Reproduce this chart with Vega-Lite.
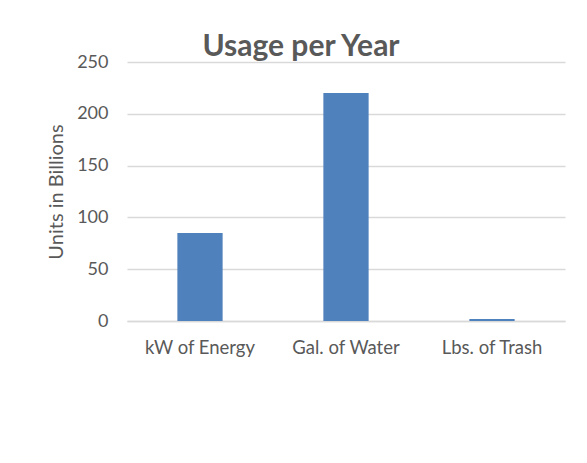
{
  "$schema": "https://vega.github.io/schema/vega-lite/v6.json",
  "autosize": {"type": "none"},
  "width": 438,
  "height": 259,
  "padding": {"left": 127, "top": 62, "right": 22, "bottom": 142},
  "background": "white",
  "title": {
    "text": "Usage per Year",
    "font": "Lato",
    "fontSize": 30,
    "fontWeight": "bold",
    "color": "#595959",
    "anchor": "middle",
    "frame": "group",
    "dx": -45,
    "baseline": "alphabetic",
    "offset": -33
  },
  "data": {
    "values": [
      {"category": "kW of Energy", "value": 85},
      {"category": "Gal. of Water", "value": 220},
      {"category": "Lbs. of Trash", "value": 2}
    ]
  },
  "mark": {"type": "bar", "color": "#4F81BD"},
  "encoding": {
    "x": {
      "field": "category",
      "type": "nominal",
      "sort": null,
      "scale": {"paddingInner": 0.69, "paddingOuter": 0.345},
      "axis": {
        "title": null,
        "labelAngle": 0,
        "labelFont": "Lato",
        "labelFontSize": 18.5,
        "labelColor": "#595959",
        "labelPadding": 17,
        "ticks": false,
        "tickSize": 0,
        "domainColor": "#D9D9D9",
        "domainWidth": 1.5
      }
    },
    "y": {
      "field": "value",
      "type": "quantitative",
      "scale": {"domain": [0, 250], "nice": false},
      "axis": {
        "title": "Units in Billions",
        "titleFont": "Lato",
        "titleFontSize": 20,
        "titleFontWeight": "normal",
        "titleColor": "#595959",
        "titlePadding": 10,
        "values": [0, 50, 100, 150, 200, 250],
        "labelFont": "Lato",
        "labelFontSize": 18,
        "labelColor": "#595959",
        "labelPadding": 19,
        "ticks": false,
        "tickSize": 0,
        "domain": false,
        "gridColor": "#D9D9D9",
        "gridWidth": 1.5
      }
    }
  },
  "config": {"view": {"stroke": null}}
}
